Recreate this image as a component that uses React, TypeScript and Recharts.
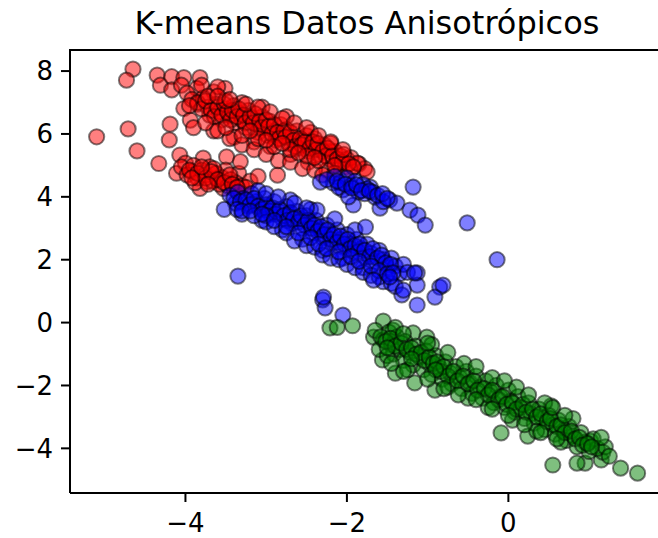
import { ScatterChart, Scatter, XAxis, YAxis } from "recharts"

// cluster points, [x, y]
const redPoints: [number, number][] = [
  [-4.65, 8.06], [-4.73, 7.71], [-4.35, 7.87], [-4.31, 7.55], [-4.17, 7.82], [-4.02, 7.79],
  [-3.82, 7.79], [-3.86, 7.45], [-4.17, 7.4], [-3.65, 7.34], [-3.51, 7.45], [-5.1, 5.91],
  [-4.71, 6.16], [-4.6, 5.46], [-4.33, 5.06], [-4.19, 6.31], [-4.2, 5.81], [-4.02, 6.81],
  [-4.07, 5.33], [-3.94, 6.44], [-4.11, 4.75], [-4.0, 5.07], [-3.78, 5.23], [-3.92, 4.8],
  [-3.73, 4.48], [-3.49, 5.27], [-3.61, 4.59], [-3.53, 4.27], [-3.82, 4.27], [-3.34, 4.75],
  [-3.32, 5.12],
  [-4.05, 7.55], [-3.98, 7.3], [-3.92, 7.1], [-3.85, 6.95], [-3.78, 7.15], [-3.72, 6.85],
  [-3.7, 6.6], [-3.62, 6.95], [-3.58, 6.7], [-3.55, 6.45], [-3.5, 6.8], [-3.45, 6.6],
  [-3.4, 6.9], [-3.38, 6.35], [-3.33, 6.65], [-3.3, 6.45], [-3.25, 6.2], [-3.22, 6.75],
  [-3.18, 6.5], [-3.12, 6.3], [-3.1, 6.05], [-3.05, 6.55], [-3.02, 6.2], [-2.98, 5.95],
  [-2.95, 6.4], [-2.9, 6.1], [-2.88, 5.8], [-2.82, 6.3], [-2.8, 5.95], [-2.75, 6.15],
  [-2.72, 5.7], [-2.68, 5.9], [-2.62, 6.1], [-2.6, 5.55], [-2.55, 5.8], [-2.5, 5.95],
  [-2.48, 5.45], [-2.45, 5.65], [-2.4, 5.85], [-2.35, 5.35], [-2.32, 5.55], [-2.28, 5.65],
  [-2.22, 5.2], [-2.2, 5.45], [-2.15, 5.45], [-2.1, 5.05], [-2.08, 5.3], [-2.02, 4.95],
  [-2.0, 5.2], [-1.95, 4.85], [-1.85, 5.05], [-1.78, 4.9], [-3.9, 6.2], [-3.65, 6.1],
  [-3.4, 5.9], [-3.15, 5.75], [-2.95, 5.6], [-2.7, 5.35], [-2.48, 5.1], [-2.25, 4.85],
  [-3.8, 7.55], [-3.3, 7.0], [-3.05, 6.85], [-2.75, 6.55], [-2.45, 6.05], [-2.2, 5.7],
  [-1.95, 5.25], [-3.6, 7.5], [-2.86, 4.69], [-1.87, 5.07], [-1.75, 4.79],
  [-3.85, 7.0], [-3.8, 6.8], [-3.75, 7.05], [-3.68, 6.75], [-3.64, 6.55], [-3.6, 6.85],
  [-3.55, 6.6], [-3.52, 6.95], [-3.48, 6.7], [-3.44, 6.45], [-3.42, 6.75], [-3.36, 6.55],
  [-3.34, 6.8], [-3.28, 6.6], [-3.26, 6.35], [-3.2, 6.55], [-3.16, 6.35], [-3.14, 6.65],
  [-3.08, 6.4], [-3.06, 6.2], [-3.0, 6.45], [-2.97, 6.25], [-2.93, 6.0], [-2.9, 6.3],
  [-2.86, 6.05], [-2.84, 5.85], [-2.78, 6.1], [-2.76, 5.9], [-2.7, 6.05], [-2.66, 5.8],
  [-2.64, 5.6], [-2.58, 5.85], [-2.56, 5.65], [-2.52, 5.75], [-2.46, 5.55], [-2.42, 5.75],
  [-2.38, 5.5], [-2.36, 5.7], [-2.3, 5.45], [-2.26, 5.3], [-2.24, 5.55], [-2.18, 5.3],
  [-2.12, 5.2], [-2.06, 5.1], [-2.04, 5.35], [-1.98, 5.05], [-1.92, 4.95], [-3.72, 7.2],
  [-3.5, 7.05], [-3.95, 6.9],
  [-3.6, 7.2], [-3.45, 7.1], [-3.25, 6.95], [-3.1, 6.85], [-2.95, 6.7], [-2.8, 6.5],
  [-2.65, 6.35], [-2.5, 6.2], [-2.35, 5.95], [-2.2, 5.75], [-2.05, 5.5],
  [-3.75, 6.35], [-3.6, 6.1], [-3.45, 5.85], [-3.3, 5.65], [-3.15, 5.5], [-3.0, 5.35],
  [-2.85, 5.15], [-2.7, 5.1], [-2.55, 4.9], [-2.4, 4.85], [-2.3, 4.7], [-2.15, 4.75],
  [-3.5, 6.2], [-3.3, 5.95], [-3.1, 5.85], [-2.9, 5.6], [-2.7, 5.5], [-2.5, 5.3],
  [-2.35, 5.15], [-2.15, 5.0], [-3.2, 6.1], [-3.0, 5.8], [-2.8, 5.7], [-2.6, 5.4], [-2.4, 5.25],
  [-4.05, 4.95], [-3.98, 4.7], [-3.9, 5.0], [-3.85, 4.6], [-3.8, 4.85], [-3.75, 4.7],
  [-3.7, 4.95], [-3.66, 4.5], [-3.62, 4.75], [-3.58, 4.4], [-3.55, 4.62], [-3.5, 4.85],
  [-3.47, 4.35], [-3.44, 4.55], [-3.4, 4.25], [-3.38, 4.45], [-3.35, 4.15], [-3.3, 4.35],
  [-3.65, 4.9], [-3.88, 4.45], [-3.2, 4.5], [-3.1, 4.65], [-3.25, 4.3],
  [-3.95, 4.85], [-3.85, 4.75], [-3.75, 4.6], [-3.68, 4.8], [-3.6, 4.55], [-3.52, 4.45],
  [-3.45, 4.7], [-3.42, 4.4], [-3.36, 4.3], [-3.72, 4.4], [-3.92, 4.6], [-3.8, 4.95],
]

const bluePoints: [number, number][] = [
  [-2.17, 4.44], [-2.05, 4.22], [-1.86, 4.15], [-1.71, 4.31], [-1.65, 3.99], [-1.92, 3.74],
  [-1.59, 3.64], [-1.47, 3.9], [-1.38, 3.8], [-1.18, 4.31], [-1.22, 3.58], [-1.12, 3.42],
  [-1.03, 3.1], [-0.51, 3.17], [-2.15, 4.65], [-2.08, 4.45], [-2.0, 4.6], [-1.95, 4.35],
  [-1.9, 4.5], [-1.8, 4.4], [-1.78, 4.1], [-1.75, 4.25], [-1.68, 4.15], [-1.55, 3.85],
  [-2.1, 4.3], [-1.98, 4.0], [-2.33, 4.47], [-2.25, 4.55],
  [-2.12, 4.5], [-2.02, 4.4], [-1.94, 4.28], [-1.88, 4.38], [-1.82, 4.2], [-1.72, 4.18],
  [-1.62, 4.05], [-1.56, 4.1], [-1.5, 3.95],
  [-3.45, 4.05], [-3.38, 3.8], [-3.35, 4.15], [-3.28, 3.95], [-3.22, 3.7], [-3.18, 4.1],
  [-3.12, 3.85], [-3.08, 3.6], [-3.02, 3.95], [-2.98, 3.7], [-2.95, 3.45], [-2.9, 3.85],
  [-2.85, 3.55], [-2.8, 3.3], [-2.75, 3.7], [-2.72, 3.45], [-2.68, 3.15], [-2.62, 3.55],
  [-2.58, 3.3], [-2.55, 3.0], [-2.5, 3.4], [-2.45, 3.15], [-2.42, 2.85], [-2.38, 3.25],
  [-2.33, 2.95], [-2.3, 2.7], [-2.25, 3.1], [-2.2, 2.8], [-2.18, 2.55], [-2.12, 2.95],
  [-2.08, 2.65], [-2.05, 2.4], [-2.0, 2.8], [-1.95, 2.5], [-1.92, 2.25], [-1.88, 2.65],
  [-1.82, 2.35], [-1.78, 2.1], [-1.75, 2.5], [-1.7, 2.2], [-1.65, 1.95], [-1.6, 2.3],
  [-1.55, 2.0], [-1.5, 1.75], [-1.45, 2.05], [-1.4, 1.8], [-1.35, 1.55], [-1.3, 1.85],
  [-1.25, 1.6], [-3.52, 3.6], [-3.3, 3.45], [-3.05, 3.25], [-2.8, 2.95], [-2.55, 2.65],
  [-2.3, 2.3], [-2.05, 2.05], [-1.8, 1.75], [-3.1, 4.2], [-2.7, 3.9], [-2.45, 3.6],
  [-2.15, 3.3], [-1.9, 2.95], [-2.37, 3.58], [-1.77, 3.04],
  [-3.4, 3.95], [-3.32, 3.85], [-3.25, 3.9], [-3.2, 3.75], [-3.15, 3.95], [-3.1, 3.7],
  [-3.05, 3.6], [-3.0, 3.75], [-2.96, 3.55], [-2.92, 3.65], [-2.88, 3.45], [-2.83, 3.6],
  [-2.78, 3.4], [-2.74, 3.25], [-2.7, 3.5], [-2.66, 3.3], [-2.6, 3.2], [-2.57, 3.4],
  [-2.52, 3.1], [-2.48, 3.25], [-2.44, 3.0], [-2.4, 3.1], [-2.36, 2.9], [-2.32, 3.05],
  [-2.28, 2.8], [-2.24, 2.95], [-2.2, 2.65], [-2.16, 2.8], [-2.12, 2.55], [-2.08, 2.75],
  [-2.03, 2.5], [-1.99, 2.65], [-1.96, 2.35], [-1.9, 2.45], [-1.86, 2.25], [-1.84, 2.5],
  [-1.78, 2.3], [-1.72, 2.1], [-1.68, 2.35], [-1.62, 2.05], [-1.57, 2.15], [-1.52, 1.9],
  [-1.46, 1.85], [-3.36, 3.6], [-3.0, 3.4],
  [-3.3, 3.55], [-3.15, 3.4], [-3.0, 3.2], [-2.9, 3.05], [-2.75, 2.85], [-2.65, 2.6],
  [-2.5, 2.45], [-2.4, 2.4], [-2.3, 2.15], [-2.2, 2.05], [-2.1, 2.0], [-2.0, 1.85],
  [-1.9, 1.75], [-1.8, 1.6], [-1.7, 1.5], [-1.6, 1.45], [-1.55, 1.3], [-1.45, 1.25], [-1.4, 1.15],
  [-3.2, 3.55], [-3.05, 3.45], [-2.9, 3.25], [-2.75, 3.05], [-2.6, 2.85], [-2.45, 2.7],
  [-2.35, 2.5], [-2.25, 2.35], [-2.1, 2.25], [-1.95, 2.1], [-1.85, 1.95], [-1.7, 1.8],
  [-1.6, 1.65], [-1.5, 1.55], [-3.0, 4.1], [-2.85, 4.0], [-2.65, 3.8], [-2.5, 3.65],
  [-3.35, 1.48], [-2.3, 0.72], [-2.27, 0.47], [-2.05, 0.24], [-2.29, 0.81],
  [-1.43, 1.58], [-1.13, 1.58], [-1.13, 1.19], [-1.32, 0.88], [-0.85, 1.13], [-0.91, 0.81],
  [-1.13, 0.56], [-0.81, 1.19], [-1.16, 1.58], [-1.47, 1.45], [-1.67, 1.35], [-1.3, 1.03],
  [-0.14, 2.0],
]

const greenPoints: [number, number][] = [
  [-2.21, -0.17], [-2.12, -0.15], [-1.93, -0.1], [-1.55, 0.05], [-1.67, -0.46], [-1.43, -0.24],
  [-1.56, -1.19], [-1.4, -1.61], [-1.16, -1.92], [-0.91, -2.15], [-1.18, -0.33], [-1.01, -0.46],
  [-0.09, -3.51], [0.24, -3.61], [0.55, -4.53], [0.95, -4.47], [1.15, -4.37], [1.39, -4.63],
  [1.6, -4.79], [0.53, -2.65], [1.02, -3.77], [1.17, -4.12], [0.85, -4.47],
  [-1.65, -0.25], [-1.55, -0.55], [-1.6, -0.85], [-1.48, -0.3], [-1.45, -0.7], [-1.42, -1.0],
  [-1.38, -0.45], [-1.35, -0.85], [-1.3, -1.2], [-1.28, -0.6], [-1.22, -0.95], [-1.18, -1.35],
  [-1.15, -0.75], [-1.1, -1.1], [-1.05, -1.5], [-1.02, -0.9], [-0.98, -1.3], [-0.95, -1.65],
  [-0.9, -1.05], [-0.85, -1.45], [-0.82, -1.8], [-0.78, -1.25], [-0.72, -1.6], [-0.7, -1.95],
  [-0.65, -1.4], [-0.6, -1.75], [-0.58, -2.1], [-0.52, -1.55], [-0.48, -1.9], [-0.45, -2.25],
  [-0.4, -1.7], [-0.35, -2.05], [-0.32, -2.4], [-0.28, -1.85], [-0.22, -2.2], [-0.18, -2.55],
  [-0.15, -2.0], [-0.1, -2.35], [-0.05, -2.7], [0.0, -2.15], [0.03, -2.5], [0.08, -2.85],
  [0.12, -2.35], [0.15, -2.7], [0.2, -3.05], [0.25, -2.55], [0.28, -2.9], [0.32, -3.2],
  [0.38, -2.75], [0.42, -3.05], [0.45, -3.4], [0.5, -2.95], [0.55, -3.25], [0.58, -3.55],
  [0.62, -3.1], [0.68, -3.45], [0.72, -3.75], [0.75, -3.3], [0.8, -3.6], [0.85, -3.95],
  [0.9, -3.5], [0.95, -3.8], [1.0, -4.1], [1.05, -3.7], [1.1, -4.0], [1.2, -3.95],
  [1.25, -4.25], [-1.5, -1.05], [-1.25, -1.5], [-0.75, -2.05], [-0.5, -2.4], [-0.25, -2.7],
  [0.05, -3.1], [0.35, -3.45], [0.65, -3.8], [-1.4, -0.15], [-0.95, -0.7], [-0.55, -1.3],
  [-0.2, -1.75], [0.1, -2.05], [0.45, -2.55], [0.8, -3.05], [1.15, -3.65],
  [-1.58, -0.45], [-1.52, -0.6], [-1.46, -0.5], [-1.4, -0.75], [-1.33, -0.65], [-1.26, -0.85],
  [-1.2, -0.8], [-1.14, -1.0], [-1.08, -0.95], [-1.04, -1.2], [-0.98, -1.1], [-0.93, -1.3],
  [-0.88, -1.25], [-0.84, -1.55], [-0.8, -1.4], [-0.75, -1.7], [-0.68, -1.55], [-0.63, -1.85],
  [-0.56, -1.7], [-0.5, -1.95], [-0.43, -1.85], [-0.38, -2.15], [-0.3, -2.1], [-0.25, -2.3],
  [-0.2, -2.15], [-0.12, -2.45], [-0.07, -2.35], [-0.02, -2.6], [0.05, -2.55], [0.1, -2.75],
  [0.18, -2.6], [0.22, -2.85], [0.3, -2.75], [0.35, -3.0], [0.4, -2.9], [0.48, -3.15],
  [0.52, -3.05], [0.6, -3.3], [0.65, -3.25], [0.7, -3.5], [0.78, -3.45], [0.83, -3.7],
  [0.88, -3.65], [0.92, -3.9], [0.98, -3.85], [1.03, -3.95], [-1.5, -0.8], [-1.2, -1.15],
  [-0.9, -1.5],
  [-1.0, -1.8], [-0.8, -2.1], [-0.62, -2.3], [-0.4, -2.45], [-0.2, -2.75], [0.0, -2.95],
  [0.2, -3.25], [0.4, -3.5], [0.6, -3.7], [-1.3, -1.55], [-1.45, -1.3],
  [-1.0, -0.65], [-0.75, -0.95], [-0.4, -1.4], [-0.05, -1.85], [0.25, -2.3], [0.55, -2.7],
  [0.7, -2.95], [-1.3, -0.35],
]

const xTicks = [-4, -2, 0]
const yTicks = [-4, -2, 0, 2, 4, 6, 8]
const title = "K-means Datos Anisotrópicos"

const toRows = (pts: [number, number][]) => pts.map(([x, y]) => ({ x, y }))

const fmt = (v: number) => String(v).replace("-", "\u2212")

const dot = (color: string) => (props: any) => (
  <circle
    cx={props.cx}
    cy={props.cy}
    r={7.6}
    fill={color}
    fillOpacity={0.5}
    stroke="#000"
    strokeOpacity={0.5}
    strokeWidth={2}
  />
)

const tickStyle = { fill: "#000", fontSize: 26, fontFamily: "DejaVu Sans" }

export default function App() {
  return (
    <div style={{ position: "absolute", left: 0, top: 0, width: 658, height: 538, overflow: "hidden", background: "#fff" }}>
      <ScatterChart width={666} height={538} margin={{ top: 50, right: 1, bottom: 0, left: 10 }}>
        <XAxis
          type="number"
          dataKey="x"
          domain={[-5.43, 1.94]}
          ticks={xTicks}
          allowDataOverflow
          tickFormatter={fmt}
          height={45}
          tickSize={9}
          tickMargin={12}
          tick={tickStyle}
          stroke="#000"
          axisLine={{ stroke: "#000", strokeWidth: 2 }}
          tickLine={{ stroke: "#000", strokeWidth: 2 }}
        />
        <YAxis
          type="number"
          dataKey="y"
          domain={[-5.42, 8.67]}
          ticks={yTicks}
          allowDataOverflow
          tickFormatter={fmt}
          width={60}
          tickSize={9}
          tickMargin={8}
          tick={tickStyle}
          stroke="#000"
          axisLine={{ stroke: "#000", strokeWidth: 2 }}
          tickLine={{ stroke: "#000", strokeWidth: 2 }}
        />
        <Scatter data={toRows(redPoints)} shape={dot("#ff0000")} isAnimationActive={false} />
        <Scatter data={toRows(bluePoints)} shape={dot("#0000ff")} isAnimationActive={false} />
        <Scatter data={toRows(greenPoints)} shape={dot("#008000")} isAnimationActive={false} />
      </ScatterChart>
      <svg width={658} height={52} style={{ position: "absolute", left: 0, top: 0 }}>
        <text x={367} y={34} textAnchor="middle" fontSize={32} fontFamily="DejaVu Sans" fill="#000">
          {title}
        </text>
        <line x1={69} y1={50} x2={658} y2={50} stroke="#000" strokeWidth={2} />
      </svg>
    </div>
  )
}
